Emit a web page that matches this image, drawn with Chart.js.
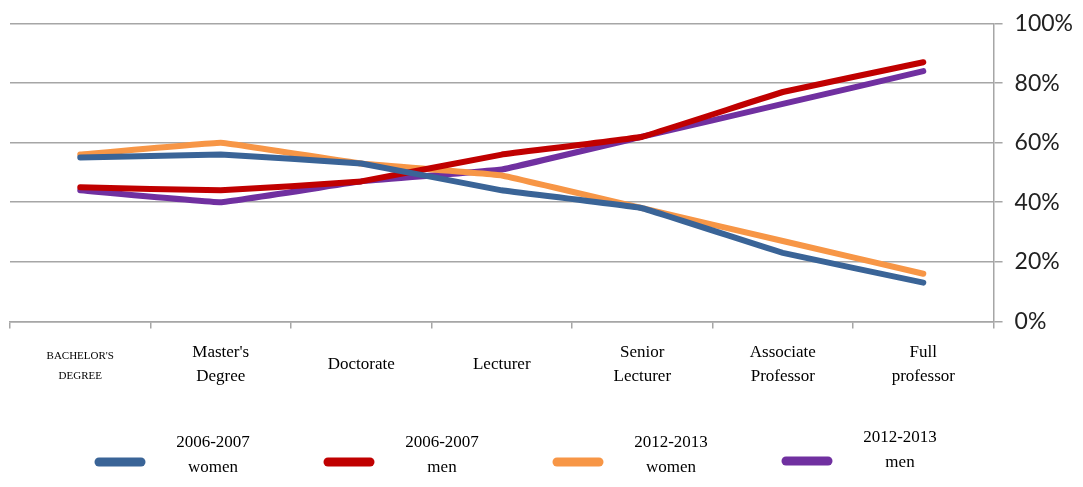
<!DOCTYPE html>
<html>
<head>
<meta charset="utf-8">
<script src="https://cdn.jsdelivr.net/npm/chart.js@4.4.1/dist/chart.umd.min.js"></script>
<style>
  html, body { margin: 0; padding: 0; background: #fff; }
  #wrap { width: 1083px; height: 487px; position: relative; }
</style>
</head>
<body>
<div id="wrap"><canvas id="chart"></canvas></div>
<script>
// categories and series (percent)
const categories = [["BACHELOR'S", "DEGREE"], ["Master's", "Degree"], "Doctorate", "Lecturer", ["Senior", "Lecturer"], ["Associate", "Professor"], ["Full", "professor"]];
const women0607 = [55, 56, 53, 44, 38, 23, 13];
const men0607 = [45, 44, 47, 56, 62, 77, 87];
const women1213 = [56, 60, 53, 49, 38, 27, 16];
const men1213 = [44, 40, 47, 51, 62, 73, 84];
const seriesNames = [["2006-2007", "women"], ["2006-2007", "men"], ["2012-2013", "women"], ["2012-2013", "men"]];
const yTicks = [0, 20, 40, 60, 80, 100];

const colors = ['#3A6497', '#C00000', '#F79646', '#7030A0'];
const gridColor = '#A6A6A6';

// legend drawn under the axis, two-line labels
const bottomLegend = {
    id: 'bottomLegend',
    afterDraw(chart) {
        const ctx = chart.ctx;
        ctx.save();
        chart.data.datasets.forEach((ds, i) => {
            const x0 = 95 + i * 229;
            const y = 462 - (i === 3 ? 1 : 0);
            ctx.strokeStyle = ds.borderColor;
            ctx.lineWidth = 9;
            ctx.lineCap = 'round';
            ctx.beginPath();
            ctx.moveTo(x0 + 4, y);
            ctx.lineTo(x0 + 46, y);
            ctx.stroke();
            ctx.fillStyle = '#000';
            ctx.font = '17px "Liberation Serif", serif';
            ctx.textAlign = 'center';
            ctx.textBaseline = 'middle';
            const tx = x0 + 118;
            const ty = i === 3 ? 438 : 443;
            ds.legendLines.forEach((t, k) => ctx.fillText(t, tx, ty + k * 25));
        });
        ctx.restore();
    }
};

const mk = (i, data) => ({
    label: seriesNames[i].join(' '),
    legendLines: seriesNames[i],
    data: data,
    borderColor: colors[i],
    backgroundColor: colors[i],
    borderWidth: 6,
    pointRadius: 0,
    tension: 0.05,
    borderCapStyle: 'round',
    borderJoinStyle: 'round'
});

new Chart(document.getElementById('chart'), {
    type: 'line',
    data: {
        labels: categories,
        datasets: [mk(0, women0607), mk(1, men0607), mk(2, women1213), mk(3, men1213)]
    },
    plugins: [bottomLegend],
    options: {
        responsive: true,
        maintainAspectRatio: false,
        animation: false,
        layout: { padding: { left: 10, right: -2, top: 6, bottom: 63 } },
        plugins: { legend: { display: false }, tooltip: { enabled: false } },
        scales: {
            x: {
                offset: true,
                grid: { offset: true, drawOnChartArea: false, tickLength: 7, color: gridColor, lineWidth: 1.5 },
                border: { color: gridColor, width: 1.5 },
                ticks: {
                    color: '#000',
                    padding: 24,
                    maxRotation: 0,
                    autoSkip: false,
                    crossAlign: 'center',
                    font: (c) => c.index === 0
                        ? { family: '"Liberation Serif", serif', size: 11, lineHeight: 1.8 }
                        : { family: '"Liberation Serif", serif', size: 17, lineHeight: 1.4 }
                }
            },
            y: {
                position: 'right',
                min: 0,
                max: 100,
                afterBuildTicks: (s) => { s.ticks = yTicks.map(v => ({ value: v })); },
                grid: { color: gridColor, lineWidth: 1.5, tickLength: 9 },
                border: { color: gridColor, width: 1.5 },
                ticks: {
                    color: '#222',
                    padding: 12,
                    font: { family: 'Lato, "Open Sans", sans-serif', size: 23, lineHeight: 1 },
                    callback: (v) => v + '%'
                }
            }
        }
    }
});
</script>
</body>
</html>
